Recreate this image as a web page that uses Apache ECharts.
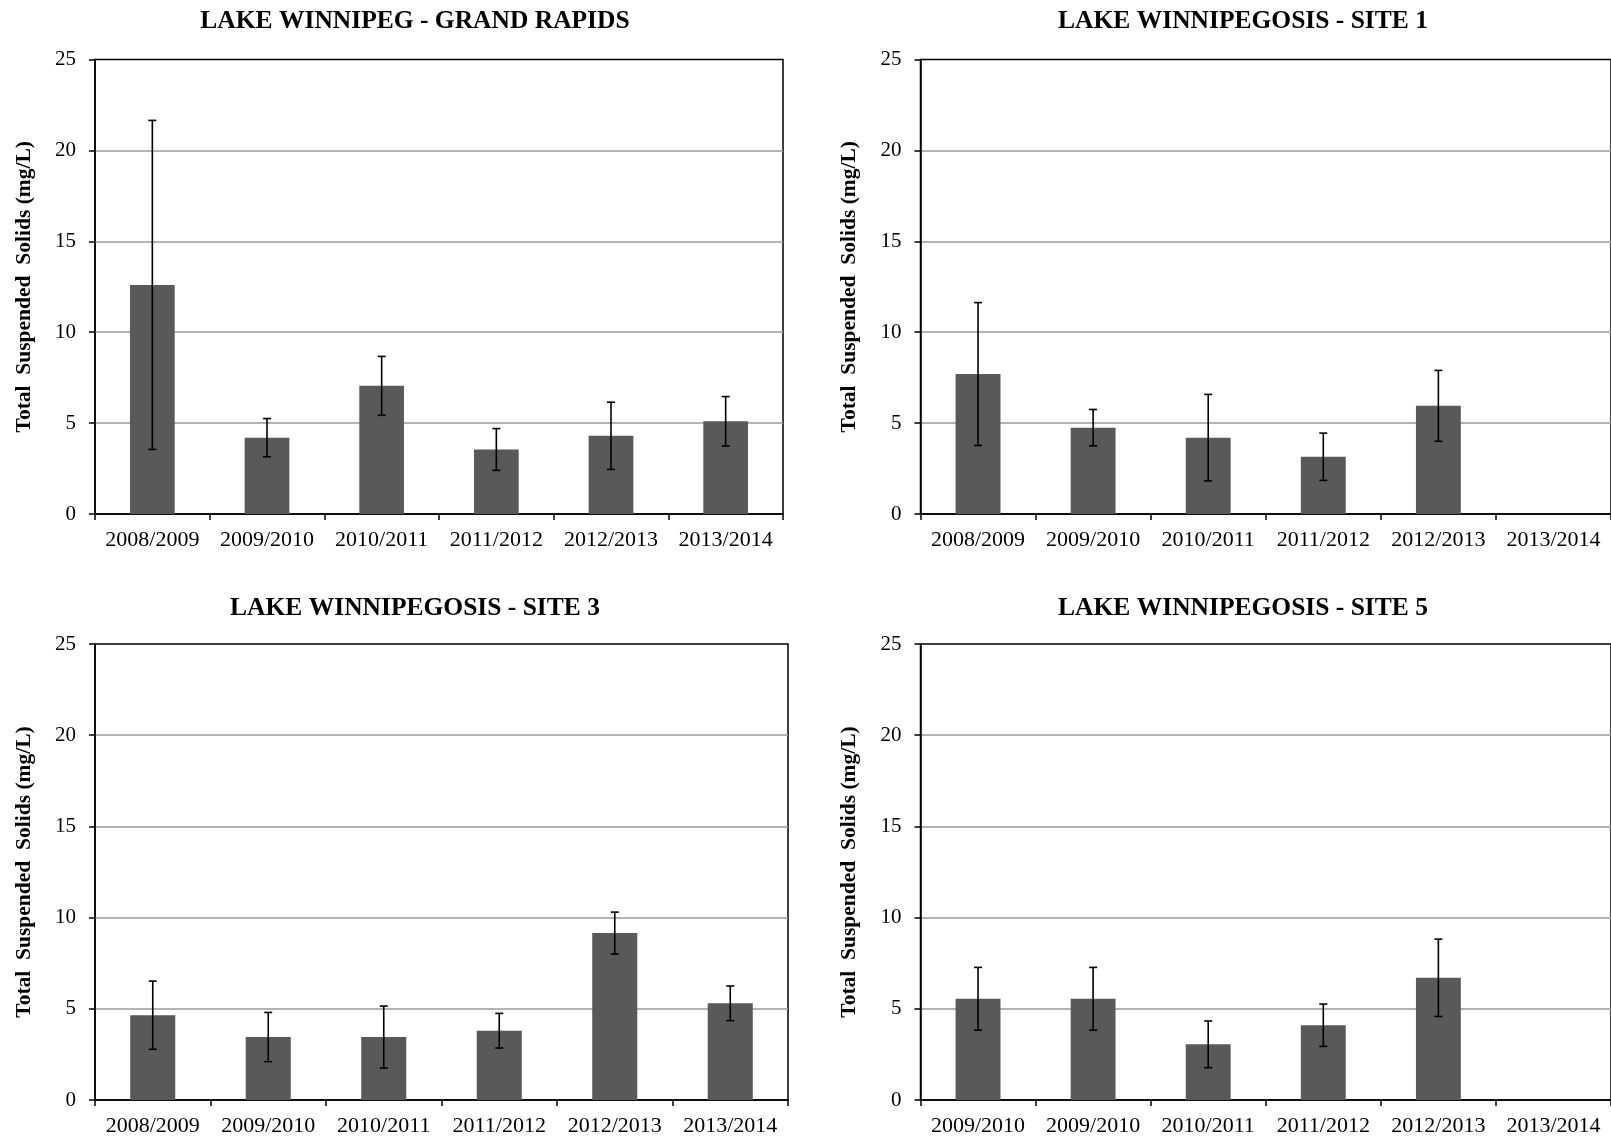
<!DOCTYPE html>
<html>
<head>
<meta charset="utf-8">
<script src="https://cdn.jsdelivr.net/npm/echarts@6/dist/echarts.min.js"></script>
<style>
  html, body { margin: 0; padding: 0; background: #fff; }
  #chart { width: 1611px; height: 1142px; }
</style>
</head>
<body>
<div id="chart"></div>
<script>
// Survey years for each station
const yearsMain = ['2008/2009', '2009/2010', '2010/2011', '2011/2012', '2012/2013', '2013/2014'];
const yearsSite5 = ['2009/2010', '2009/2010', '2010/2011', '2011/2012', '2012/2013', '2013/2014'];

// Mean total suspended solids (mg/L) and error bar half-lengths
const grandRapidsMean = [12.6, 4.2, 7.05, 3.55, 4.3, 5.1];
const grandRapidsErr  = [9.05, 1.05, 1.62, 1.15, 1.85, 1.36];

const site1Mean = [7.7, 4.75, 4.2, 3.15, 5.95, null];
const site1Err  = [3.93, 1.0, 2.38, 1.3, 1.95, null];

const site3Mean = [4.65, 3.45, 3.45, 3.8, 9.15, 5.3];
const site3Err  = [1.87, 1.35, 1.7, 0.95, 1.15, 0.95];

const site5Mean = [5.55, 5.55, 3.05, 4.1, 6.7, null];
const site5Err  = [1.72, 1.72, 1.28, 1.16, 2.12, null];

const yTicks = { min: 0, max: 25, interval: 5 };

const panels = [
  { title: 'LAKE WINNIPEG - GRAND RAPIDS', years: yearsMain, mean: grandRapidsMean, err: grandRapidsErr,
    grid: { left: 95, top: 59.5, width: 688, height: 454.5 }, titlePos: { x: 415, y: 8 } },
  { title: 'LAKE WINNIPEGOSIS - SITE 1', years: yearsMain, mean: site1Mean, err: site1Err,
    grid: { left: 920.5, top: 59.5, width: 693, height: 454.5 }, titlePos: { x: 1243, y: 8 } },
  { title: 'LAKE WINNIPEGOSIS - SITE 3', years: yearsMain, mean: site3Mean, err: site3Err,
    grid: { left: 95, top: 644, width: 693, height: 456 }, titlePos: { x: 415, y: 595 } },
  { title: 'LAKE WINNIPEGOSIS - SITE 5', years: yearsSite5, mean: site5Mean, err: site5Err,
    grid: { left: 920.5, top: 644, width: 693, height: 456 }, titlePos: { x: 1243, y: 595 } }
];

const FONT = "'Liberation Serif', 'Times New Roman', serif";

const option = {
  animation: false,
  backgroundColor: '#ffffff',
  title: [],
  grid: [],
  xAxis: [],
  yAxis: [],
  series: []
};

function errorBarItem(params, api) {
  const idx = api.value(0);
  const m = api.value(1);
  const e = api.value(2);
  if (m == null || isNaN(m)) return null;
  const hi = api.coord([idx, m + e]);
  const lo = api.coord([idx, m - e]);
  const cap = 4;
  const style = { stroke: '#000', lineWidth: 1.6 };
  return {
    type: 'group',
    children: [
      { type: 'line', shape: { x1: hi[0], y1: hi[1], x2: lo[0], y2: lo[1] }, style: style },
      { type: 'line', shape: { x1: hi[0] - cap, y1: hi[1], x2: hi[0] + cap, y2: hi[1] }, style: style },
      { type: 'line', shape: { x1: lo[0] - cap, y1: lo[1], x2: lo[0] + cap, y2: lo[1] }, style: style }
    ]
  };
}

panels.forEach(function (p, i) {
  option.title.push({
    text: p.title,
    left: p.titlePos.x,
    top: p.titlePos.y,
    textAlign: 'center',
    padding: 0,
    textStyle: { fontFamily: FONT, fontWeight: 'bold', fontSize: 25.5, color: '#000' }
  });
  option.grid.push(Object.assign({
    show: true, borderColor: '#000', borderWidth: 1.5, backgroundColor: 'transparent'
  }, p.grid));
  option.xAxis.push({
    type: 'category',
    gridIndex: i,
    data: p.years,
    boundaryGap: true,
    axisLine: { show: true, lineStyle: { color: '#000', width: 1.5 } },
    axisTick: { show: true, length: 6, lineStyle: { color: '#000', width: 1.5 } },
    axisLabel: { fontFamily: FONT, fontSize: 22, color: '#000', margin: 15, interval: 0 },
    splitLine: { show: false }
  });
  option.yAxis.push({
    type: 'value',
    gridIndex: i,
    min: yTicks.min,
    max: yTicks.max,
    interval: yTicks.interval,
    name: 'Total  Suspended  Solids (mg/L)',
    nameLocation: 'middle',
    nameRotate: 90,
    nameGap: 60,
    nameTextStyle: { fontFamily: FONT, fontWeight: 'bold', fontSize: 21.5, color: '#000' },
    axisLine: { show: true, lineStyle: { color: '#000', width: 1.5 } },
    axisTick: { show: true, length: 6, lineStyle: { color: '#000', width: 1.5 } },
    axisLabel: { fontFamily: FONT, fontSize: 21, color: '#000', margin: 19 },
    splitLine: { show: true, showMinLine: false, showMaxLine: false, lineStyle: { color: '#9a9a9a', width: 1.5 } }
  });
  option.series.push({
    type: 'bar',
    xAxisIndex: i,
    yAxisIndex: i,
    barWidth: '39%',
    itemStyle: { color: '#595959' },
    data: p.mean.map(function (v) { return v == null ? '-' : v; })
  });
  option.series.push({
    type: 'custom',
    xAxisIndex: i,
    yAxisIndex: i,
    renderItem: errorBarItem,
    encode: { x: 0, y: 1 },
    z: 5,
    data: p.mean.map(function (v, k) {
      return v == null ? [k, null, null] : [k, v, p.err[k]];
    })
  });
});

const chart = echarts.init(document.getElementById('chart'), null, { renderer: 'canvas' });
chart.setOption(option);
</script>
</body>
</html>
